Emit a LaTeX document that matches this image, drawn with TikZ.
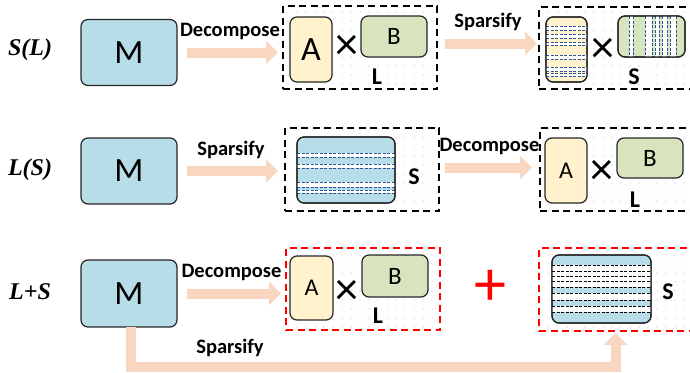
\documentclass[tikz,border=0pt]{standalone}
\usepackage{fontspec}
\setmainfont{Carlito}
\newfontfamily\rowfont{Liberation Serif}
\usetikzlibrary{arrows.meta,positioning,patterns.meta}
\definecolor{mblue}{RGB}{183,222,232}
\definecolor{ayellow}{RGB}{255,242,204}
\definecolor{bgreen}{RGB}{215,228,189}
\definecolor{flow}{RGB}{248,214,192}
\definecolor{sblue}{RGB}{47,85,151}
\tikzset{
  mat/.style={draw=black!85, line width=1.2pt, rounded corners=7pt, outer sep=0pt, inner sep=0pt},
  mbox/.style={mat, fill=mblue, minimum width=96pt, minimum height=66pt, font=\fontsize{34}{34}\selectfont},
  abox/.style={mat, fill=ayellow, minimum width=42pt, minimum height=65pt, font=\fontsize{24}{24}\selectfont},
  bbox/.style={mat, fill=bgreen, minimum width=66pt, minimum height=41pt, font=\fontsize{25}{25}\selectfont},
  grp/.style={draw=#1, line width=2pt, dash pattern=on 7pt off 4.5pt, outer sep=0pt,
    minimum width=154pt, minimum height=83pt,
    pattern={Dots[distance=9pt,radius=0.6pt]}, pattern color=black!25},
  grp/.default=black,
  flowarrow/.style={draw=flow, line width=10pt, -{Triangle[length=12pt,width=23pt]}},
  steplbl/.style={font=\bfseries\fontsize{20.5}{20.5}\selectfont},
  rowlbl/.style={font=\rowfont\bfseries\itshape\fontsize{24}{24}\selectfont},
  boxtag/.style={font=\bfseries\fontsize{24}{24}\selectfont},
  crossmark/.style={font=\fontsize{46}{46}\selectfont, inner sep=0pt},
  border/.style={draw=black!85, line width=1.2pt, rounded corners=7pt},
  sline/.style={draw=#1, line width=0.8pt, dash pattern=on 3pt off 1.5pt},
  sline/.default=sblue
}

\begin{document}
\begin{tikzpicture}[x=1pt, y=-1pt]
  \useasboundingbox (0,0) rectangle (690,372);

  % row labels
  \node[rowlbl] (r1) at (30,50)  {S(L)};
  \node[rowlbl] (r2) at (30,170) {L(S)};
  \node[rowlbl] (r3) at (30,292) {L+S};

  % ---- S(L) ----
  \node[mbox] (m1) at (129,52.5) {M};
  \node[grp]  (g1) at (360,47.5) {};
  \node[abox, font=\fontsize{34}{34}\selectfont] (a1) at (311,49.5) {A};
  \node[crossmark] (x1) at (347,47) {×};
  \node[bbox] (b1) at (394,36.5) {B};
  \node[boxtag] (l1) at (377,77) {L};
  \node[grp, minimum width=153pt, minimum height=82pt] (g2) at (615.5,48) {};
  \node[abox, minimum width=41pt] (a2) at (566.5,49.5) {};
  \node[crossmark] (x2) at (603,50) {×};
  \node[bbox, minimum width=67pt] (b2) at (651.5,36.5) {};
  \node[boxtag] (l2) at (634,77) {S};

  \begin{scope}
    \clip[rounded corners=7pt] (a2.south west) rectangle (a2.north east);
    \foreach \ya/\yb in {26/30,34/38,42/45,55/59,67/71,73/76}{
      \fill[white] (a2.west |- 0,\ya) rectangle (a2.east |- 0,\yb);
      \draw[sline] (a2.west |- 0,\ya) -- (a2.east |- 0,\ya)
                   (a2.west |- 0,\yb) -- (a2.east |- 0,\yb);
    }
  \end{scope}
  \draw[border] (a2.south west) rectangle (a2.north east);
  \begin{scope}
    \clip[rounded corners=7pt] (b2.south west) rectangle (b2.north east);
    \foreach \xa/\xb in {629/633,645/652,655/659,662/667,670/676}{
      \fill[white] (\xa,0 |- b2.north) rectangle (\xb,0 |- b2.south);
      \draw[sline] (\xa,0 |- b2.north) -- (\xa,0 |- b2.south)
                   (\xb,0 |- b2.north) -- (\xb,0 |- b2.south);
    }
  \end{scope}
  \draw[border] (b2.south west) rectangle (b2.north east);

  \draw[flowarrow, shorten <=10pt, shorten >=5pt] (m1.east) -- (m1.east -| g1.west)
    node[midway, above=4pt, steplbl] (d1) {Decompose};
  \draw[flowarrow, shorten <=8pt, shorten >=2pt] ([yshift=4pt]g1.east) -- ([yshift=4pt]g1.east -| g2.west)
    node[midway, above=4pt, steplbl] (sp1) {Sparsify};

  % ---- L(S) ----
  \node[mbox] (m2) at (129,171) {M};
  \node[grp]  (g3) at (362,169.5) {};
  \node[mat, fill=mblue, minimum width=98pt, minimum height=66pt] (s1) at (346,170) {};
  \node[boxtag] (l3) at (414,177) {S};
  \node[grp, minimum width=152pt] (g4) at (616,169.5) {};
  \node[abox] (a3) at (566,170.5) {A};
  \node[crossmark] (x3) at (602,172) {×};
  \node[bbox, minimum height=40pt] (b3) at (650,158) {B};
  \node[boxtag] (l4) at (635,200) {L};

  \begin{scope}
    \clip[rounded corners=7pt] (s1.south west) rectangle (s1.north east);
    \foreach \ya/\yb in {153/157,164/168,182/187,190/193}{
      \fill[white] (s1.west |- 0,\ya) rectangle (s1.east |- 0,\yb);
      \draw[sline] (s1.west |- 0,\ya) -- (s1.east |- 0,\ya)
                   (s1.west |- 0,\yb) -- (s1.east |- 0,\yb);
    }
  \end{scope}
  \draw[border] (s1.south west) rectangle (s1.north east);

  \draw[flowarrow, shorten <=10pt, shorten >=7pt] (m2.east) -- (m2.east -| g3.west)
    node[midway, above=4pt, steplbl] (sp2) {Sparsify};
  \draw[flowarrow, shorten <=6pt, shorten >=8pt] ([yshift=2pt]g3.east) -- ([yshift=2pt]g3.east -| g4.west)
    node[midway, above=4pt, steplbl] (d2) {Decompose};

  % ---- L+S ----
  \node[mbox, minimum height=67pt] (m3) at (129,293.5) {M};
  \node[grp=red, minimum height=82pt] (g5) at (363,289) {};
  \node[abox, minimum width=43pt, minimum height=64pt] (a4) at (311.5,288) {A};
  \node[crossmark] (x4) at (347,292) {×};
  \node[bbox, minimum height=42pt] (b4) at (395,276) {B};
  \node[boxtag] (l5) at (378,316) {L};
  \node[text=red, font=\fontsize{64}{64}\selectfont, inner sep=0pt] (plus) at (490,288) {+};
  \node[grp=red, minimum width=153pt] (g6) at (615.5,289.5) {};
  \node[mat, fill=mblue, minimum width=99pt, minimum height=68pt] (s2) at (601.5,289) {};
  \node[boxtag] (l6) at (668,292) {S};

  \begin{scope}
    \clip[rounded corners=7pt] (s2.south west) rectangle (s2.north east);
    \foreach \ya/\yb in {265/287,293/300,306/312}
      \fill[white] (s2.west |- 0,\ya) rectangle (s2.east |- 0,\yb);
    \foreach \y in {265,271,276,281,287,293,300,306,312}
      \draw[sline=black] (s2.west |- 0,\y) -- (s2.east |- 0,\y);
  \end{scope}
  \draw[border] (s2.south west) rectangle (s2.north east);

  \draw[flowarrow, shorten <=10pt, shorten >=5pt] (m3.east) -- (m3.east -| g5.west)
    node[midway, above=4pt, steplbl] (d3) {Decompose};
  \draw[flowarrow, shorten >=2pt] ([xshift=2pt]m3.south) -- ++(0,40) -| (g6.south);
  \node[steplbl] (sp3) at (230,348) {Sparsify};
\end{tikzpicture}
\end{document}
